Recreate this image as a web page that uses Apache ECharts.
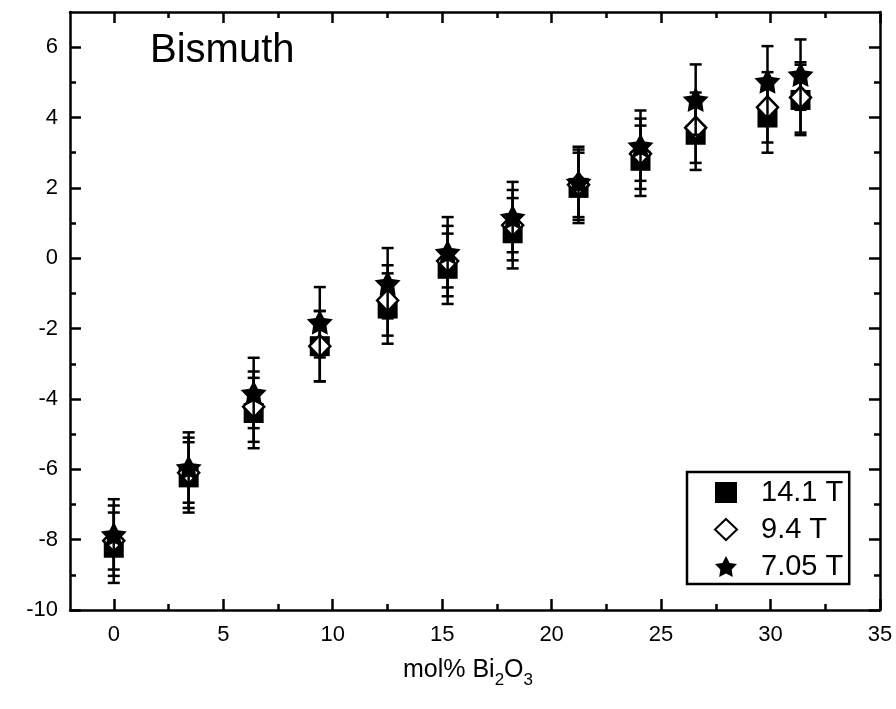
<!DOCTYPE html>
<html>
<head>
<meta charset="utf-8">
<script src="https://cdn.jsdelivr.net/npm/echarts@6/dist/echarts.min.js"></script>
<style>html,body{margin:0;padding:0;background:#fff}#c{width:896px;height:709px}</style>
</head>
<body>
<div id="c"></div>
<script>
const xVals = [0, 3.42, 6.39, 9.41, 12.51, 15.25, 18.22, 21.23, 24.06, 26.58, 29.86, 31.37];
const y141 = [-8.23, -6.23, -4.4, -2.5, -1.43, -0.3, 0.71, 2.0, 2.77, 3.51, 4.0, 4.5];
const y94 = [-8.03, -6.1, -4.22, -2.5, -1.2, -0.08, 0.94, 2.09, 2.97, 3.71, 4.29, 4.57];
const y705 = [-7.85, -5.95, -3.83, -1.82, -0.71, 0.17, 1.17, 2.17, 3.2, 4.51, 5.03, 5.22];
const err141 = [1,1,1,1,1,1,1,1,1,1,1,1];
const err94 = [1,1,1,1,1,1,1,1,1,1,1,1];
const err705 = [1,1,1,1,1,1,1,1,1,1,1,1];
const seriesNames = ['14.1 T', '9.4 T', '7.05 T'];
const xMajor = [0, 5, 10, 15, 20, 25, 30, 35];
const xMinor = [2.5, 7.5, 12.5, 17.5, 22.5, 27.5, 32.5];
const yMajor = [-10, -8, -6, -4, -2, 0, 2, 4, 6];
const yMinor = [-9, -7, -5, -3, -1, 1, 3, 5];

const STAR = 'path://M0,-10 L3.1,-4.0 L9.51,-3.09 L4.9,1.6 L5.88,8.09 L0,5.1 L-5.88,8.09 L-4.9,1.6 L-9.51,-3.09 L-3.1,-4.0 Z';
const FONT = 'Liberation Sans, Arial, sans-serif';

const chart = echarts.init(document.getElementById('c'));
const gridPos = {left: 70, right: 16, top: 12, bottom: 99};
const XMIN = -2, XMAX = 35, YMIN = -10, YMAX = 7;
const lineStyle = {color: '#000', width: 2.5};

function xAx(grid, pos, ticks, len, labels, showLine) {
  return {
    type: 'value', gridIndex: grid, position: pos, min: XMIN, max: XMAX,
    splitLine: {show: false},
    axisLine: {show: showLine, onZero: false, lineStyle: lineStyle},
    axisTick: {show: true, inside: true, length: len, customValues: ticks, lineStyle: {color: '#000', width: 2.5}},
    axisLabel: labels ? {show: true, customValues: xMajor, margin: 14, color: '#000', fontSize: 22, fontFamily: FONT} : {show: false},
    name: labels ? '{a|mol% Bi}{s|2}{a|O}{s|3}' : '',
    nameLocation: 'middle', nameGap: 45,
    nameTextStyle: {padding: [0, 14, 0, 0], rich: {
      a: {fontSize: 25, color: '#000', fontFamily: FONT, verticalAlign: 'bottom', lineHeight: 28},
      s: {fontSize: 17, color: '#000', fontFamily: FONT, verticalAlign: 'bottom', padding: [0,0,-6,0], lineHeight: 28}
    }}
  };
}
function yAx(grid, pos, ticks, len, labels, showLine) {
  return {
    type: 'value', gridIndex: grid, position: pos, min: YMIN, max: YMAX,
    splitLine: {show: false},
    axisLine: {show: showLine, onZero: false, lineStyle: lineStyle},
    axisTick: {show: true, inside: true, length: len, customValues: ticks, lineStyle: {color: '#000', width: 2.5}},
    axisLabel: labels ? {show: true, customValues: yMajor, margin: 12, color: '#000', fontSize: 22, fontFamily: FONT} : {show: false}
  };
}

function errData(ys, errs) {
  return xVals.map((x, i) => [x, ys[i] - errs[i], ys[i] + errs[i]]);
}
function errSeries(ys, errs, z) {
  return {
    type: 'custom', xAxisIndex: 0, yAxisIndex: 0, z: z, silent: true,
    data: errData(ys, errs),
    encode: {x: 0, y: [1, 2]},
    renderItem: function (params, api) {
      const x = api.value(0);
      const lo = api.coord([x, api.value(1)]);
      const hi = api.coord([x, api.value(2)]);
      const hw = 6;
      const st = {stroke: '#000', lineWidth: 2.5, fill: null};
      return {type: 'group', children: [
        {type: 'line', shape: {x1: lo[0], y1: lo[1], x2: hi[0], y2: hi[1]}, style: st},
        {type: 'line', shape: {x1: lo[0]-hw, y1: lo[1], x2: lo[0]+hw, y2: lo[1]}, style: st},
        {type: 'line', shape: {x1: hi[0]-hw, y1: hi[1], x2: hi[0]+hw, y2: hi[1]}, style: st}
      ]};
    }
  };
}
function pts(ys) { return xVals.map((x, i) => [x, ys[i]]); }

chart.setOption({
  animation: false,
  backgroundColor: '#fff',
  title: {
    text: 'Bismuth', left: 150, top: 31, padding: 0,
    textStyle: {fontSize: 40, fontWeight: 'normal', color: '#000', fontFamily: FONT}
  },
  grid: [Object.assign({}, gridPos), Object.assign({}, gridPos)],
  xAxis: [
    xAx(0, 'bottom', xMajor, 11, true, true),
    xAx(0, 'top', xMajor, 11, false, true),
    xAx(1, 'bottom', xMinor, 6, false, false),
    xAx(1, 'top', xMinor, 6, false, false)
  ],
  yAxis: [
    yAx(0, 'left', yMajor, 11, true, true),
    yAx(0, 'right', yMajor, 11, false, true),
    yAx(1, 'left', yMinor, 6, false, false),
    yAx(1, 'right', yMinor, 6, false, false)
  ],
  legend: {
    orient: 'vertical', left: 687, top: 472,
    data: seriesNames,
    backgroundColor: '#fff', borderColor: '#000', borderWidth: 2.5, borderRadius: 0,
    padding: [6, 6, 3, 27],
    itemGap: 8, itemWidth: 22, itemHeight: 21,
    textStyle: {fontSize: 29, color: '#000', fontFamily: FONT, padding: [0, 0, 0, 19]}
  },
  series: [
    errSeries(y141, err141, 2),
    {name: seriesNames[0], type: 'scatter', xAxisIndex: 0, yAxisIndex: 0, z: 3,
      data: pts(y141), symbol: 'rect', symbolSize: 20,
      itemStyle: {color: '#000', opacity: 1}},
    errSeries(y94, err94, 4),
    {name: seriesNames[1], type: 'scatter', xAxisIndex: 0, yAxisIndex: 0, z: 5,
      data: pts(y94), symbol: 'diamond', symbolSize: [21, 22],
      itemStyle: {color: '#fff', borderColor: '#000', borderWidth: 2.5, opacity: 1}},
    errSeries(y705, err705, 6),
    {name: seriesNames[2], type: 'scatter', xAxisIndex: 0, yAxisIndex: 0, z: 7,
      data: pts(y705), symbol: STAR, symbolSize: [26, 25],
      itemStyle: {color: '#000', opacity: 1}}
  ]
});
</script>
</body>
</html>
